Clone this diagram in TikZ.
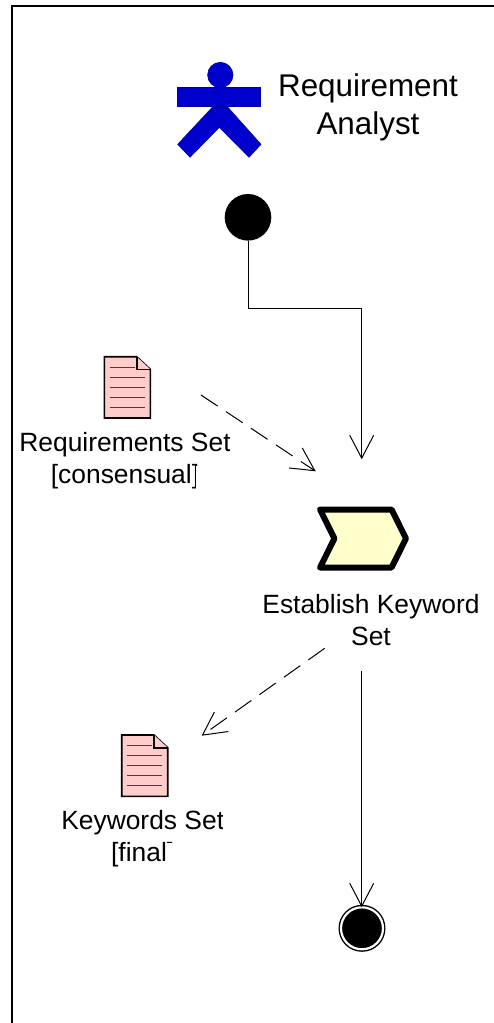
\documentclass[tikz,border=0pt]{standalone}
\usepackage{fontspec}
\setmainfont{Liberation Sans}
\usetikzlibrary{arrows.meta,shapes.symbols}

\definecolor{actorblue}{HTML}{0000CC}
\definecolor{docpink}{HTML}{FFCCCC}
\definecolor{taskyellow}{HTML}{FFFFCC}

\tikzset{
  flow/.style={draw=black,line width=1pt,-{Straight Barb[length=23pt,width=24pt,line width=1pt]}},
  dataflow/.style={flow,dash pattern=on 20pt off 10pt},
  docbody/.style={draw=black,fill=docpink,line width=1.6pt,line join=miter},
  docline/.style={draw=black!75,line width=0.9pt},
  actorpart/.style={fill=actorblue,draw=actorblue!80!black,line width=0.6pt},
  biglabel/.style={align=center,inner sep=0pt,font=\fontsize{31.4}{38}\selectfont},
  smalllabel/.style={align=center,inner sep=0pt,font=\fontsize{26.4}{31.7}\selectfont},
}

\begin{document}
\begin{tikzpicture}[x=1pt,y=-1pt]
\useasboundingbox (0,0) rectangle (494,1023);
% Drawing frame
\draw[line width=2pt] (12,1023) -- (12,6) -- (494,6);
% Drawing actor
\draw[actorpart] (177.7,144.3) -- (213.5,106) -- (226.7,106) -- (261,144.3) -- (249,157.3) -- (219.3,127.3) -- (190,157.3) -- cycle;
\draw[actorpart] (177.7,87.7) rectangle (260,106);
\draw[actorpart] (220.3,75) circle(12.7pt);
\node[biglabel] (analyst) at (368,107.5) {Requirement\\Analyst};
% Drawing start and end states
\node[circle,fill=black,inner sep=0pt,minimum size=46.6pt] (start) at (248,217.3) {};
\node[circle,fill=black,draw=black,double=white,double distance=2.2pt,line width=1.4pt,inner sep=0pt,outer sep=0pt,minimum size=42pt] (final) at (362,928.3) {};
% Drawing task
\node[signal,signal to=east,signal from=west,signal pointer angle=127,draw=black,fill=taskyellow,line width=6pt,line join=round,inner sep=0pt,outer sep=0pt,minimum width=86pt,minimum height=58pt] (task) at (363,538.5) {};
\begin{scope}
\clip (240,585) rectangle (478.5,623) (240,623) rectangle (390,656);
\node[smalllabel] (tasklabel) at (371,620) {Establish Keyword\\Set};
\end{scope}
% Drawing input document
\draw[docbody] (104.3,356.7) -- (136.7,356.7) -- (150.3,369.3) -- (150.3,418) -- (104.3,418) -- cycle;
\draw[docbody] (136.7,356.7) -- (136.7,369.3) -- (150.3,369.3);
\draw[docline] (110,367.3) -- (135,367.3);
\draw[docline] (110,377.3) -- (145,377.3);
\draw[docline] (110,387.3) -- (145,387.3);
\draw[docline] (110,397.3) -- (145,397.3);
\draw[docline] (110,407.3) -- (145,407.3);
\begin{scope}
\clip (0,425) rectangle (229.5,465) (0,465) rectangle (195,499);
\node[smalllabel] (reqlabel) at (125,461) {Requirements Set\\{}[consensual]};
\end{scope}
% Drawing output document
\draw[docbody] (121.7,735) -- (154,735) -- (167.7,747.7) -- (167.7,796.3) -- (121.7,796.3) -- cycle;
\draw[docbody] (154,735) -- (154,747.7) -- (167.7,747.7);
\draw[docline] (126.7,745.3) -- (152,745.3);
\draw[docline] (126.7,755.3) -- (162.3,755.3);
\draw[docline] (126.7,765.3) -- (162.3,765.3);
\draw[docline] (126.7,775.3) -- (162.3,775.3);
\draw[docline] (126.7,785.3) -- (162.3,785.3);
\begin{scope}
\clip (40,805) rectangle (222,842) (40,842) rectangle (166.5,880);
\node[smalllabel] (keylabel) at (142.7,838.5) {Keywords Set\\{}[final]};
\end{scope}
% Drawing connectors
\coordinate (bend) at (361.7,308.3);
\coordinate (taskin) at (361.7,459.3);
\coordinate (taskout) at (361.7,671);
\coordinate (reqout) at (201,395);
\coordinate (datain) at (315.7,471.3);
\coordinate (dataout) at (324.7,648.3);
\coordinate (keyin) at (201.7,735.7);
\draw[flow] (start.south) |- (bend) -- (taskin);
\draw[flow] (taskout) -- (taskout |- final.north);
\draw[dataflow] (reqout) -- (datain);
\draw[dataflow] (dataout) -- (keyin);
\end{tikzpicture}
\end{document}
